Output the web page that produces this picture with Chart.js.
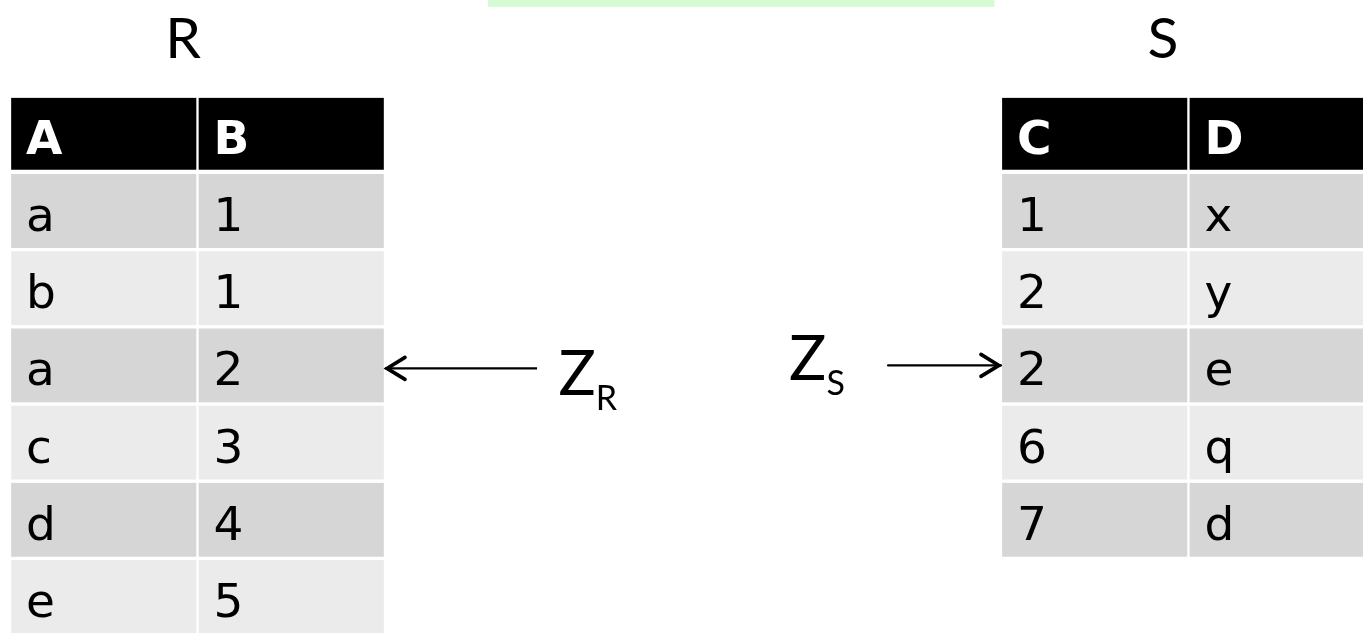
<!DOCTYPE html>
<html>
<head>
<meta charset="utf-8">
<script src="https://cdn.jsdelivr.net/npm/chart.js@4.4.0/dist/chart.umd.min.js"></script>
<style>
	html, body { margin: 0; padding: 0; background: #fff; }
	#wrap { width: 1363px; height: 633px; position: relative; }
</style>
</head>
<body>
<div id="wrap"><canvas id="myChart"></canvas></div>
<script>
// table R
const rName = 'R';
const rHeaders = ['A', 'B'];
const rColA = ['a', 'b', 'a', 'c', 'd', 'e'];
const rColB = ['1', '1', '2', '3', '4', '5'];

// table S
const sName = 'S';
const sHeaders = ['C', 'D'];
const sColC = ['1', '2', '2', '6', '7'];
const sColD = ['x', 'y', 'e', 'q', 'd'];

// pointers into the tables: letter, subscript, row pointed at
const zLetters = ['Z', 'Z'];
const zSubs = ['R', 'S'];
const zRows = [3, 3];

// layout (column units on x, row index on y)
const rStart = 0;
const sStart = 5.285;
const FONT = "'DejaVu Sans', Verdana, sans-serif";
const THIN = "Lato, 'Open Sans', sans-serif";

function headerSet(label, x0) {
	return {
		data: [{ y: 0, x: [x0, x0 + 1] }],
		backgroundColor: '#000000',
		barThickness: 72,
		texts: [label],
		textColor: '#ffffff',
		textFont: 'bold 47px ' + FONT
	};
}

function bodySet(values, x0) {
	return {
		data: values.map((v, i) => ({ y: i + 1, x: [x0, x0 + 1] })),
		backgroundColor: values.map((v, i) => i % 2 == 0 ? '#d6d6d6' : '#ebebeb'),
		barThickness: 74,
		texts: values,
		textColor: '#000000',
		textFont: '47px ' + FONT
	};
}

const datasets = [
	headerSet(rHeaders[0], rStart), headerSet(rHeaders[1], rStart + 1),
	bodySet(rColA, rStart), bodySet(rColB, rStart + 1),
	headerSet(sHeaders[0], sStart), headerSet(sHeaders[1], sStart + 1),
	bodySet(sColC, sStart), bodySet(sColD, sStart + 1)
];

//writes each cell's value inside its bar
const cellText = {
	id: 'cellText',
	afterDatasetsDraw(chart) {
		const ctx = chart.ctx;
		chart.data.datasets.forEach((ds, di) => {
			const meta = chart.getDatasetMeta(di);
			ctx.save();
			ctx.font = ds.textFont;
			ctx.fillStyle = ds.textColor;
			ctx.textBaseline = 'alphabetic';
			meta.data.forEach((bar, i) => {
				const left = Math.min(bar.x, bar.base);
				ctx.fillText(ds.texts[i], left + 16, bar.y + 20);
			});
			ctx.restore();
		});
	}
};

//table names, the pointers and the green strip at the top
const extras = {
	id: 'extras',
	afterDraw(chart) {
		const ctx = chart.ctx;
		const xs = chart.scales.x;
		const ys = chart.scales.y;
		ctx.save();

		ctx.fillStyle = '#d5fbd5';
		const g0 = xs.getPixelForValue(2.55), g1 = xs.getPixelForValue(5.25);
		ctx.fillRect(g0, 0, g1 - g0, 7);

		ctx.fillStyle = '#000';
		ctx.font = '57px ' + THIN;
		ctx.textAlign = 'center';
		ctx.textBaseline = 'alphabetic';
		ctx.fillText(rName, xs.getPixelForValue(rStart + 0.923), 58);
		ctx.fillText(sName, xs.getPixelForValue(sStart + 0.864), 58);

		// pointer helpers
		function arrow(x0, x1, y) {
			ctx.strokeStyle = '#000';
			ctx.lineWidth = 2.2;
			ctx.beginPath();
			ctx.moveTo(x0, y);
			ctx.lineTo(x1, y);
			ctx.stroke();
			const d = x1 > x0 ? -1 : 1;
			ctx.lineWidth = 3.6;
			ctx.lineCap = 'round';
			ctx.lineJoin = 'miter';
			ctx.beginPath();
			ctx.moveTo(x1 + d * 20, y - 11);
			ctx.lineTo(x1 + d * 2, y);
			ctx.lineTo(x1 + d * 20, y + 11);
			ctx.stroke();
		}
		function zLabel(k, x, baseline, subDrop) {
			ctx.textAlign = 'left';
			ctx.font = '62px ' + THIN;
			ctx.fillText(zLetters[k], x, baseline);
			const w = ctx.measureText(zLetters[k]).width;
			ctx.font = '34px ' + THIN;
			ctx.fillText(zSubs[k], x + w, baseline + subDrop);
		}

		const yR = ys.getPixelForValue(zRows[0]);
		arrow(xs.getPixelForValue(rStart + 2.811), xs.getPixelForValue(rStart + 2), yR + 3);
		zLabel(0, xs.getPixelForValue(rStart + 2.925), yR + 30, 15);

		const yS = ys.getPixelForValue(zRows[1]);
		arrow(xs.getPixelForValue(sStart - 0.602), xs.getPixelForValue(sStart), yS);
		zLabel(1, xs.getPixelForValue(sStart - 1.13), yS + 15, 15);

		ctx.restore();
	}
};

const chart = new Chart(document.getElementById('myChart').getContext('2d'), {
	type: 'bar',
	data: { datasets: datasets },
	options: {
		indexAxis: 'y',
		responsive: true,
		maintainAspectRatio: false,
		animation: false,
		events: [],
		layout: { padding: 0 },
		datasets: {
			bar: {
				grouped: false,
				borderColor: '#ffffff',
				borderWidth: { left: 1.5, right: 1.5, top: 0, bottom: 0 },
				borderSkipped: false
			}
		},
		scales: {
			x: { type: 'linear', min: -0.0533, max: 7.216, offset: false, display: false },
			y: { type: 'linear', min: -1.733, max: 6.466, reverse: true, offset: false, display: false }
		},
		plugins: {
			legend: { display: false },
			tooltip: { enabled: false }
		}
	},
	plugins: [cellText, extras]
});
</script>
</body>
</html>
